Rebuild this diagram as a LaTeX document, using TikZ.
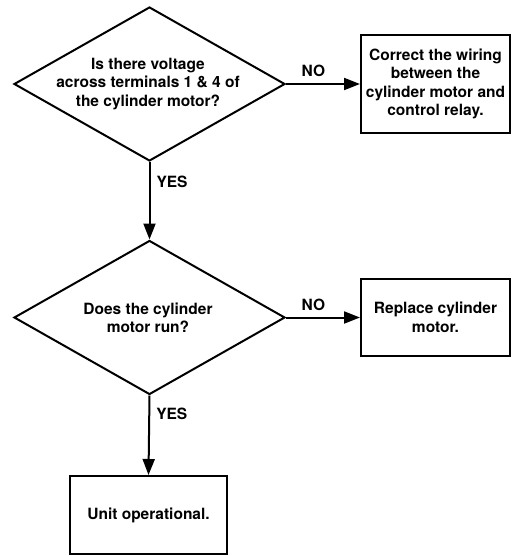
\documentclass[tikz,border=0pt]{standalone}
\usepackage{fontspec}
\setmainfont{TeX Gyre Heros}
\usetikzlibrary{shapes.geometric,arrows.meta}
\begin{document}
\begin{tikzpicture}[x=1pt,y=-1pt,
  every node/.style={font=\fontsize{15.5}{18.5}\selectfont\bfseries},
  dia/.style={diamond, draw, line width=2pt, inner sep=0pt, minimum width=271pt, minimum height=154pt},
  boxn/.style={rectangle, draw, line width=2pt, align=center, inner sep=0pt},
  dtext/.style={align=center, inner sep=0pt},
  arr/.style={line width=2pt, -{Triangle[length=16pt,width=12pt]}},
  lab/.style={inner sep=0pt}
]
\useasboundingbox (0,0) rectangle (511,556);
\node[dia] (d1) at (149.5,84) {};
\node[dtext] (t1) at (148,84) {Is there voltage\\across terminals 1 \& 4 of\\the cylinder motor?};
\node[boxn, minimum width=149pt, minimum height=98pt] (b1) at (435.5,84) {Correct the wiring\\between the\\cylinder motor and\\control relay.};
\node[dia] (d2) at (149.5,317.5) {};
\node[dtext] (t2) at (148,318) {Does the cylinder\\motor run?};
\node[boxn, minimum width=149pt, minimum height=77pt] (b2) at (435.5,317.5) {Replace cylinder\\motor.};
\node[boxn, minimum width=157pt, minimum height=78pt] (b3) at (148.5,515) {Unit operational.};
\draw[arr] (d1.east) -- (b1.west) node[lab, pos=0.37, above=6pt] {NO};
\draw[arr] (d2.east) -- (b2.west) node[lab, pos=0.37, above=6pt] {NO};
\draw[arr] (d1.south) -- (d2.north) node[lab, pos=0.26, right=6pt] {YES};
\draw[arr] (d2.south) -- (b3.north) node[lab, pos=0.23, right=6pt] {YES};
\end{tikzpicture}
\end{document}
